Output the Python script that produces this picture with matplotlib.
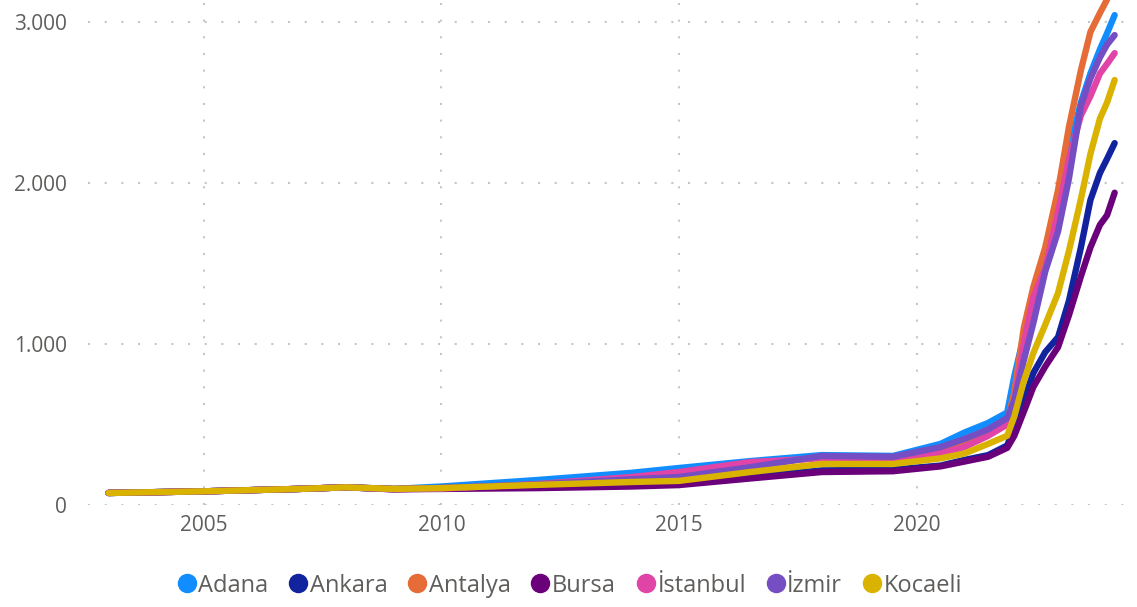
import matplotlib.pyplot as plt
from matplotlib.ticker import FuncFormatter
from matplotlib.lines import Line2D

plt.rcParams['font.family'] = ['Open Sans', 'DejaVu Sans']

# dates as fractional years
years = [2003.0, 2005.0, 2007.0, 2008.0, 2009.0, 2010.0, 2012.0, 2014.0, 2015.0,
         2016.5, 2018.0, 2019.5, 2020.5, 2021.0, 2021.5,
         2021.9, 2022.05, 2022.25, 2022.45, 2022.7, 2022.97, 2023.2, 2023.45,
         2023.65, 2023.85, 2024.0, 2024.16]

adana = [75, 85, 100, 110, 100, 115, 155, 200, 230, 273, 310, 305, 380, 450, 510,
         575, 800, 1050, 1280, 1580, 1900, 2200, 2500, 2680, 2830, 2930, 3043]
ankara = [75, 85, 100, 110, 98, 105, 115, 125, 132, 175, 215, 220, 245, 280, 310,
          370, 480, 650, 820, 950, 1043, 1270, 1600, 1894, 2062, 2150, 2248]
antalya = [75, 85, 100, 110, 100, 105, 125, 160, 180, 240, 300, 295, 340, 390, 450,
           520, 700, 1100, 1354, 1600, 1957, 2350, 2700, 2938, 3056, 3140, 3220]
bursa = [75, 85, 100, 110, 98, 100, 105, 115, 124, 165, 205, 210, 240, 270, 300,
         355, 430, 580, 733, 860, 981, 1180, 1420, 1600, 1740, 1800, 1940]
istanbul = [75, 85, 100, 110, 98, 102, 130, 174, 205, 267, 290, 280, 320, 360, 430,
            500, 650, 1000, 1290, 1470, 1820, 2150, 2420, 2540, 2680, 2740, 2807]
izmir = [75, 85, 100, 110, 100, 106, 128, 160, 174, 235, 305, 300, 360, 410, 470,
         540, 650, 900, 1130, 1450, 1700, 2030, 2480, 2650, 2780, 2860, 2919]
kocaeli = [75, 85, 100, 110, 100, 105, 125, 143, 150, 205, 255, 255, 290, 320, 380,
           430, 550, 770, 944, 1120, 1317, 1580, 1900, 2180, 2400, 2500, 2640]

names = ['Adana', 'Ankara', 'Antalya', 'Bursa', 'İstanbul', 'İzmir', 'Kocaeli']
colors = ['#118DFF', '#12239E', '#E66C37', '#6B007B', '#E044A7', '#744EC2', '#D9B300']
series = [adana, ankara, antalya, bursa, istanbul, izmir, kocaeli]

fig = plt.figure(figsize=(11.37, 6.07), dpi=100)
ax = fig.add_axes([0.077, 0.168, 0.923, 0.832])

for vals, c in zip(series, colors):
    ax.plot(years, vals, color=c, linewidth=4.6, solid_capstyle='round', solid_joinstyle='round')

ax.set_xlim(2002.56, 2024.63)
ax.set_ylim(0, 3137)
ax.set_xticks([2005, 2010, 2015, 2020])
ax.set_yticks([0, 1000, 2000, 3000])
ax.yaxis.set_major_formatter(FuncFormatter(lambda v, p: f'{int(v):,}'.replace(',', '.')))

for s in ax.spines.values():
    s.set_visible(False)
ax.tick_params(length=0, labelsize=15, labelcolor='#605E5C')
ax.tick_params(axis='y', pad=15)
ax.tick_params(axis='x', pad=7)
ax.grid(True, color='#C8C6C4', linestyle=(0, (1, 7)), linewidth=1.5)
ax.set_axisbelow(True)

handles = [Line2D([], [], marker='o', linestyle='none', markersize=13, color=c) for c in colors]
fig.legend(handles, names, loc='center', bbox_to_anchor=(0.5, 0.035), ncol=7, frameon=False,
           handletextpad=0.0, columnspacing=0.75, handlelength=1.0,
           prop={'size': 17}, labelcolor='#605E5C')

fig.savefig('out.png', dpi=100)
